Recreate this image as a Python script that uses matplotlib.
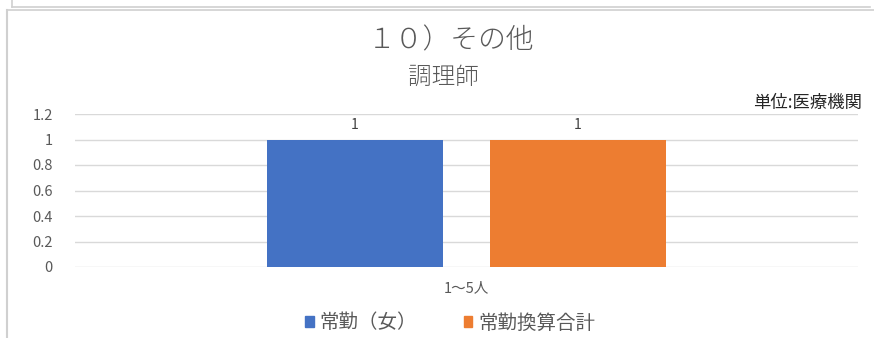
import matplotlib
matplotlib.use("Agg")
import matplotlib.pyplot as plt
from matplotlib.lines import Line2D
from matplotlib.patches import Patch

plt.rcParams['font.family'] = ['Noto Sans CJK JP', 'DejaVu Sans']

title = "１０）その他"
subtitle = "調理師"
unit_label = "単位:医療機関"
categories = ["1～5人"]
series_names = ["常勤（女）", "常勤換算合計"]
series_values = [[1], [1]]
colors = ["#4472C4", "#ED7D31"]
y_ticks = [0, 0.2, 0.4, 0.6, 0.8, 1, 1.2]
y_tick_labels = ["0", "0.2", "0.4", "0.6", "0.8", "1", "1.2"]

W, H = 874, 338
fig = plt.figure(figsize=(W / 100, H / 100), dpi=100)
fig.patch.set_facecolor("white")

# frames around the chart area
border = "#d0d0d0"
fig.add_artist(Line2D([12 / W, 12 / W], [1, 1 - 7 / H], color=border, lw=1.2))
fig.add_artist(Line2D([12 / W, 870 / W], [1 - 7 / H, 1 - 7 / H], color=border, lw=1.2))
fig.add_artist(Line2D([7 / W, 7 / W], [0, 1 - 10 / H], color=border, lw=1.5))
fig.add_artist(Line2D([7 / W, 1], [1 - 10 / H, 1 - 10 / H], color=border, lw=1.2))

ax_left, ax_right = 75, 858
ax_top, ax_bottom = 114, 267
ax = fig.add_axes([ax_left / W, 1 - ax_bottom / H, (ax_right - ax_left) / W, (ax_bottom - ax_top) / H])

offsets = [-0.1425, 0.1425]
width = 0.225
for vals, off, col in zip(series_values, offsets, colors):
    xs = [i + off for i in range(len(categories))]
    bars = ax.bar(xs, vals, width=width, color=col, zorder=3)
    for b, v in zip(bars, vals):
        ax.text(b.get_x() + b.get_width() / 2, v + 0.06, f"{v:g}", ha="center", va="bottom",
                fontsize=10, color="#404040")

ax.set_xlim(-0.5, len(categories) - 0.5)
ax.set_ylim(0, 1.2)
ax.set_yticks(y_ticks)
ax.set_yticklabels(y_tick_labels)
ax.set_xticks(range(len(categories)))
ax.set_xticklabels(categories)
ax.tick_params(axis="both", length=0, labelsize=10.5, colors="#595959")
ax.tick_params(axis="x", pad=10)
ax.tick_params(axis="y", pad=16)
ax.yaxis.grid(True, color="#d9d9d9", lw=1, zorder=0)
for s in ax.spines.values():
    s.set_visible(False)

fig.text(451 / W, 1 - 40 / H, title, ha="center", va="center", fontsize=20,
         fontweight="light", color="#595959")
fig.text(443 / W, 1 - 77 / H, subtitle, ha="center", va="center", fontsize=17,
         fontweight="light", color="#595959")
fig.text(862 / W, 1 - 103 / H, unit_label, ha="right", va="center", fontsize=12.5, color="#262626")

handles = [Patch(color=c, label=n) for c, n in zip(colors, series_names)]
fig.legend(handles=handles, loc="center", bbox_to_anchor=(450 / W, 1 - 323 / H), ncol=2,
           frameon=False, fontsize=14, handlelength=0.45, handleheight=0.45, handletextpad=0.3,
           columnspacing=2.4, labelcolor="#595959")

fig.savefig("out.png", dpi=100, facecolor="white")
